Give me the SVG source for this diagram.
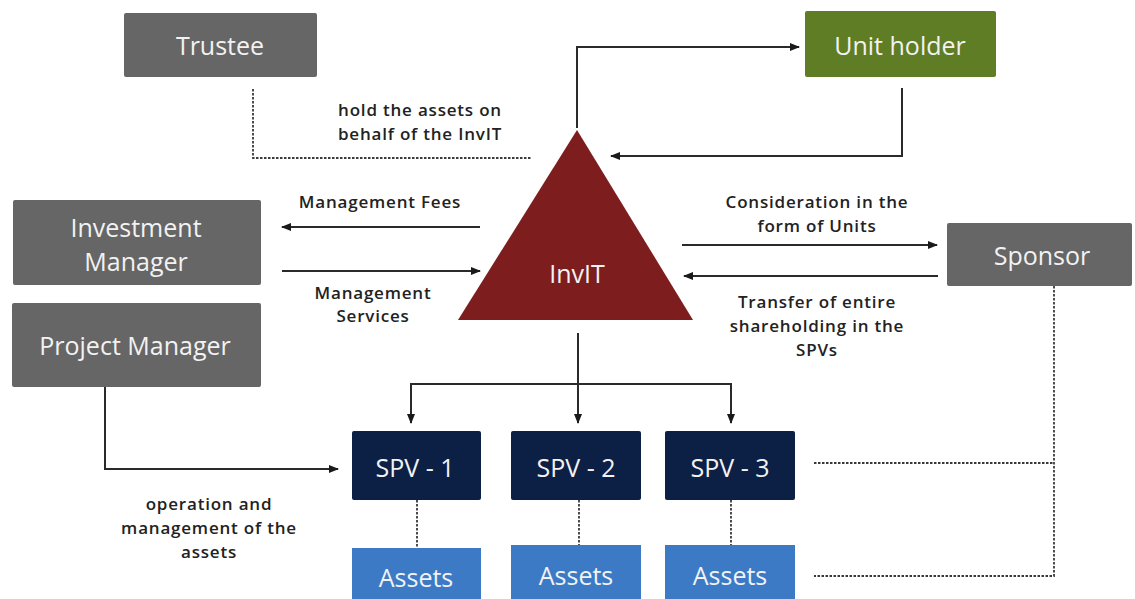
<svg xmlns="http://www.w3.org/2000/svg" width="1135" height="599" viewBox="0 0 1135 599">
  <defs>
    <marker id="arr" markerWidth="10" markerHeight="8" refX="9" refY="4" orient="auto" markerUnits="userSpaceOnUse">
      <path d="M0,0 L10,4 L0,8 Z" fill="#1a1a1a"/>
    </marker>
    <style>
      .gray { fill: #666666; }
      .green { fill: #5f7d24; }
      .navy { fill: #0c1f45; }
      .blue { fill: #3c7ac6; }
      .box-text { font-family: "Open Sans", "DejaVu Sans", sans-serif; fill: #f2f2f2; font-size: 25px; text-anchor: middle; }
      .lbl { font-family: "Open Sans", "DejaVu Sans", sans-serif; font-weight: 600; fill: #222222; font-size: 17px; letter-spacing: 0.8px; text-anchor: middle; }
      .solid { fill: none; stroke: #2a2a2a; stroke-width: 2; }
      .dash { fill: none; stroke: #3a3a3a; stroke-width: 1.8; stroke-dasharray: 2.5 1.5; }
    </style>
  </defs>
  <rect width="1135" height="599" fill="#ffffff"/>

  <!-- connectors -->
  <g id="connectors">
    <path class="dash" d="M253,89 V158 H532"/>
    <path class="solid" d="M577,128 V47 H799" marker-end="url(#arr)"/>
    <path class="solid" d="M902,88 V156 H611" marker-end="url(#arr)"/>
    <path class="solid" d="M480,227 H282" marker-end="url(#arr)"/>
    <path class="solid" d="M282,271 H480" marker-end="url(#arr)"/>
    <path class="solid" d="M682,245 H937" marker-end="url(#arr)"/>
    <path class="solid" d="M938,276 H684" marker-end="url(#arr)"/>
    <path class="solid" d="M578,333 V423" marker-end="url(#arr)"/>
    <path class="solid" d="M411,423 V384 H731 V423" marker-end="url(#arr)"/>
    <path class="solid" d="M411,384 V423" marker-end="url(#arr)"/>
    <path class="solid" d="M105,387 V469 H338" marker-end="url(#arr)"/>
    <path class="dash" d="M417,500 V548"/>
    <path class="dash" d="M579,500 V545"/>
    <path class="dash" d="M731,500 V545"/>
    <path class="dash" d="M1054,286 V576 H814"/>
    <path class="dash" d="M814,463 H1054"/>
  </g>

  <!-- connector labels -->
  <g id="labels">
    <text class="lbl" x="420" y="116">hold the assets on</text>
    <text class="lbl" x="420" y="140">behalf of the InvIT</text>
    <text class="lbl" x="380" y="208">Management Fees</text>
    <text class="lbl" x="373" y="299">Management</text>
    <text class="lbl" x="373" y="322">Services</text>
    <text class="lbl" x="817" y="208">Consideration in the</text>
    <text class="lbl" x="817" y="232">form of Units</text>
    <text class="lbl" x="817" y="308">Transfer of entire</text>
    <text class="lbl" x="817" y="332">shareholding in the</text>
    <text class="lbl" x="817" y="356">SPVs</text>
    <text class="lbl" x="209" y="510">operation and</text>
    <text class="lbl" x="209" y="534">management of the</text>
    <text class="lbl" x="209" y="558">assets</text>
  </g>

  <g id="trustee">
    <rect class="gray" x="124" y="13" width="193" height="64" rx="2"/>
    <text class="box-text" x="220" y="55">Trustee</text>
  </g>
  <g id="unit-holder">
    <rect class="green" x="805" y="11" width="191" height="66" rx="2"/>
    <text class="box-text" x="900" y="55" font-size="29">Unit holder</text>
  </g>
  <g id="investment-manager">
    <rect class="gray" x="13" y="200" width="248" height="85" rx="2"/>
    <text class="box-text" x="136" y="237" font-size="26">Investment</text>
    <text class="box-text" x="136" y="271" font-size="26">Manager</text>
  </g>
  <g id="project-manager">
    <rect class="gray" x="12" y="303" width="249" height="84" rx="2"/>
    <text class="box-text" x="135" y="355" font-size="27">Project Manager</text>
  </g>
  <g id="invit">
    <polygon points="577,130 693,320 458,320" fill="#7e1d1e"/>
    <text class="box-text" x="577" y="283" font-size="23">InvIT</text>
  </g>
  <g id="sponsor">
    <rect class="gray" x="947" y="223" width="185" height="63" rx="2"/>
    <text class="box-text" x="1042" y="265" font-size="28">Sponsor</text>
  </g>
  <g id="spv-1">
    <rect class="navy" x="352" y="431" width="129" height="69" rx="2"/>
    <text class="box-text" x="415" y="477">SPV - 1</text>
  </g>
  <g id="spv-2">
    <rect class="navy" x="511" y="431" width="130" height="69" rx="2"/>
    <text class="box-text" x="576" y="477">SPV - 2</text>
  </g>
  <g id="spv-3">
    <rect class="navy" x="665" y="431" width="130" height="69" rx="2"/>
    <text class="box-text" x="730" y="477">SPV - 3</text>
  </g>
  <g id="assets-1">
    <rect class="blue" x="352" y="548" width="129" height="60"/>
    <text class="box-text" x="416" y="587" font-size="23">Assets</text>
  </g>
  <g id="assets-2">
    <rect class="blue" x="511" y="545" width="130" height="60"/>
    <text class="box-text" x="576" y="585" font-size="23">Assets</text>
  </g>
  <g id="assets-3">
    <rect class="blue" x="665" y="545" width="130" height="60"/>
    <text class="box-text" x="730" y="585" font-size="23">Assets</text>
  </g>
</svg>
